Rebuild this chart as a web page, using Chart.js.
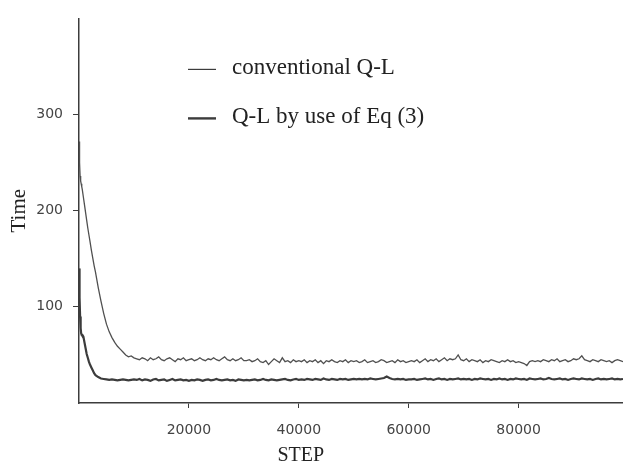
<!DOCTYPE html>
<html lang="en">
<head>
    <meta charset="UTF-8">
    <title>Time vs STEP</title>
    <script src="https://cdn.jsdelivr.net/npm/chart.js"></script>
    <style>
        * { margin: 0; padding: 0; box-sizing: border-box; }
        body { background: #fff; }
        .chart-box { position: relative; width: 623px; height: 466px; }
    </style>
</head>
<body>
    <div class="chart-box">
        <canvas id="qlChart"></canvas>
    </div>

    <script>
        // learning steps (x)
        const steps = [
            0, 100, 200, 300, 400, 500, 600, 800, 1000, 1200, 1400, 1600, 1800, 2000, 2250, 2500,
            2750, 3000, 3500, 4000, 4500, 5000, 5500, 6000, 6500, 7000, 7500, 8000, 8500, 9000, 9500, 10000,
            10500, 11000, 11500, 12000, 12500, 13000, 13500, 14000, 14500, 15000, 15500, 16000, 16500, 17000, 17500, 18000, 18500, 19000, 19500, 20000,
            20500, 21000, 21500, 22000, 22500, 23000, 23500, 24000, 24500, 25000, 25500, 26000, 26500, 27000, 27500, 28000, 28500, 29000, 29500, 30000,
            30500, 31000, 31500, 32000, 32500, 33000, 33500, 34000, 34500, 35000, 35500, 36000, 36500, 37000, 37500, 38000, 38500, 39000, 39500, 40000,
            40500, 41000, 41500, 42000, 42500, 43000, 43500, 44000, 44500, 45000, 45500, 46000, 46500, 47000, 47500, 48000, 48500, 49000, 49500, 50000,
            50500, 51000, 51500, 52000, 52500, 53000, 53500, 54000, 54500, 55000, 55500, 56000, 56500, 57000, 57500, 58000, 58500, 59000, 59500, 60000,
            60500, 61000, 61500, 62000, 62500, 63000, 63500, 64000, 64500, 65000, 65500, 66000, 66500, 67000, 67500, 68000, 68500, 69000, 69500, 70000,
            70500, 71000, 71500, 72000, 72500, 73000, 73500, 74000, 74500, 75000, 75500, 76000, 76500, 77000, 77500, 78000, 78500, 79000, 79500, 80000,
            80500, 81000, 81500, 82000, 82500, 83000, 83500, 84000, 84500, 85000, 85500, 86000, 86500, 87000, 87500, 88000, 88500, 89000, 89500, 90000,
            90500, 91000, 91500, 92000, 92500, 93000, 93500, 94000, 94500, 95000, 95500, 96000, 96500, 97000, 97500, 98000, 98500, 99000
        ];

        // conventional Q-L
        const conventional = [
            272, 250, 236, 231, 228, 225, 222, 214, 206, 198, 190, 182, 175, 168, 159, 151,
            143, 136, 120, 106, 93, 82, 74, 68, 63, 59, 56, 53, 50, 48, 49, 47,
            46, 45, 47, 46, 44, 47, 45, 46, 48, 45, 44, 46, 47, 45, 43, 46, 45, 47, 44, 45,
            46, 44, 45, 47, 45, 44, 46, 45, 47, 45, 44, 46, 48, 45, 44, 46, 44, 45, 47, 44,
            44, 45, 43, 44, 46, 43, 42, 44, 40, 43, 46, 44, 42, 47, 43, 44, 42, 45, 43, 44,
            43, 45, 42, 44, 43, 45, 42, 44, 41, 44, 43, 45, 43, 42, 44, 43, 45, 42, 44, 43,
            44, 42, 43, 45, 42, 43, 44, 42, 43, 45, 44, 42, 43, 44, 42, 45, 43, 44, 42, 43,
            44, 43, 45, 42, 44, 46, 43, 45, 44, 46, 43, 45, 47, 44, 46, 45, 46, 50, 45, 44,
            46, 43, 45, 44, 43, 45, 42, 44, 43, 45, 44, 43, 42, 44, 43, 45, 43, 44, 42, 43,
            42, 41, 39, 43, 44, 43, 44, 43, 45, 44, 43, 45, 44, 46, 43, 44, 45, 43, 44, 46,
            45, 46, 49, 45, 44, 43, 45, 44, 43, 45, 44, 43, 44, 42, 44, 45, 44, 43
        ];

        // Q-L by use of Eq (3)
        const eq3 = [
            140, 110, 90, 78, 72, 71, 71, 69, 63, 57, 51, 47, 43, 40, 37, 34,
            31, 29, 27, 25.5, 25, 24.5, 24, 24.5, 24, 23.5, 24, 24.5, 24, 23.5, 24, 24.5,
            24, 25, 23.5, 24.5, 24, 23, 24.5, 25, 23.5, 24, 24.5, 23, 24, 25, 23.5, 24, 24.5, 23.5, 24, 23,
            24, 23.5, 24.5, 24, 23, 24, 24.5, 23.5, 24, 25, 24, 23.5, 24, 24.5, 23.5, 24, 23, 24.5, 24, 23.5,
            24, 23.5, 24, 24.5, 23.5, 24, 25, 24, 23.5, 24.5, 24, 23.5, 24, 24.5, 25, 24, 23.5, 24.5, 25, 24,
            24.5, 24, 25, 24.5, 24, 25, 24.5, 24, 25.5, 24.5, 24, 25, 24.5, 24, 25, 24.5, 25, 24, 24.5, 25,
            24.5, 25, 24.5, 25, 24.5, 25.5, 25, 24.5, 25, 25.5, 26, 27.5, 26, 25, 24.5, 25, 24.5, 25, 24, 24.5,
            24.5, 25, 24, 24.5, 25, 25.5, 24.5, 25, 24, 25, 25.5, 24.5, 25, 24, 25, 24.5, 25, 25.5, 24.5, 25,
            24.5, 25, 24, 25, 24.5, 25.5, 25, 24.5, 25, 24, 25, 24.5, 25.5, 24.5, 25, 24, 25, 24.5, 25.5, 25,
            24.5, 25, 24, 25.5, 25, 24.5, 25, 25.5, 24.5, 25, 26, 25, 24.5, 25, 25.5, 24.5, 25, 24, 25, 25.5,
            25, 24.5, 25.5, 25, 24.5, 25, 24, 25, 25.5, 24.5, 25, 24.5, 25, 25.5, 24.5, 25, 24.5, 25
        ];

        const yTicks = [100, 200, 300];
        const xTicks = [20000, 40000, 60000, 80000];
        const seriesLabels = ["conventional Q-L", "Q-L by use of Eq (3)"];
        const xTitle = "STEP";
        const yTitle = "Time";

        const serif = "'Liberation Serif', 'Times New Roman', serif";
        const ink = "#3c3c3c";

        const toPoints = (vals) => vals.map((v, i) => ({ x: steps[i], y: v }));

        // legend + x title drawn inside/under the plot like the original figure
        const figureText = {
            id: "figureText",
            afterDraw(chart) {
                const ctx = chart.ctx;
                const area = chart.chartArea;
                const xs = chart.scales.x;
                ctx.save();
                ctx.fillStyle = "#222";
                ctx.font = "20px " + serif;
                ctx.textAlign = "center";
                ctx.textBaseline = "middle";
                ctx.fillText(xTitle, xs.getPixelForValue(40000) + 2, area.bottom + 53);

                // legend entries
                const rows = [
                    { y: area.top + 51, width: 1.2, label: seriesLabels[0] },
                    { y: area.top + 100, width: 2.4, label: seriesLabels[1] }
                ];
                ctx.font = "23px " + serif;
                ctx.textAlign = "left";
                rows.forEach(r => {
                    ctx.strokeStyle = ink;
                    ctx.lineWidth = r.width;
                    ctx.beginPath();
                    ctx.moveTo(area.left + 109, r.y);
                    ctx.lineTo(area.left + 137, r.y);
                    ctx.stroke();
                    ctx.fillText(r.label, area.left + 153, r.y - 1);
                });
                ctx.restore();
            }
        };

        new Chart(document.getElementById("qlChart"), {
            type: "line",
            data: {
                datasets: [
                    {
                        label: seriesLabels[0],
                        data: toPoints(conventional),
                        borderColor: "#505050",
                        borderWidth: 1.3,
                        pointRadius: 0,
                        tension: 0,
                        fill: false
                    },
                    {
                        label: seriesLabels[1],
                        data: toPoints(eq3),
                        borderColor: "#3c3c3c",
                        borderWidth: 2.2,
                        pointRadius: 0,
                        tension: 0,
                        fill: false
                    }
                ]
            },
            options: {
                responsive: true,
                maintainAspectRatio: false,
                animation: false,
                layout: { padding: { top: 8, left: 0, right: 0, bottom: 0 } },
                plugins: {
                    legend: { display: false },
                    tooltip: { enabled: false }
                },
                scales: {
                    x: {
                        type: "linear",
                        min: 0,
                        max: 99000,
                        afterBuildTicks: (s) => { s.ticks = xTicks.map(v => ({ value: v })); },
                        afterFit: (s) => { s.height = 63; },
                        border: { display: true, color: ink, width: 1.5 },
                        grid: { drawOnChartArea: false, drawTicks: true, tickLength: 5, color: ink },
                        ticks: {
                            autoSkip: false,
                            maxRotation: 0,
                            padding: 14,
                            color: "#444",
                            font: { family: "'DejaVu Sans'", size: 14 },
                            callback: (v) => String(v)
                        }
                    },
                    y: {
                        min: 0,
                        max: 400,
                        afterBuildTicks: (s) => { s.ticks = yTicks.map(v => ({ value: v })); },
                        afterFit: (s) => { s.width = 79; },
                        border: { display: true, color: ink, width: 1.5 },
                        grid: { drawOnChartArea: false, drawTicks: true, tickLength: 6, color: ink },
                        title: {
                            display: true,
                            text: yTitle,
                            color: "#222",
                            font: { family: serif, size: 21 },
                            padding: { top: 7, bottom: 0 }
                        },
                        ticks: {
                            padding: 10,
                            color: "#444",
                            font: { family: "'DejaVu Sans'", size: 14 },
                            callback: (v) => String(v)
                        }
                    }
                }
            },
            plugins: [figureText]
        });
    </script>
</body>
</html>
